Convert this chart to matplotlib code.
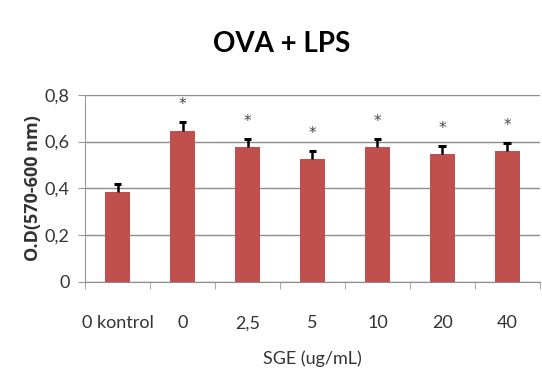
#Bar chart: OVA + LPS optical density by SGE dose

import matplotlib.pyplot as plt
from matplotlib.ticker import FixedLocator

plt.rcParams['font.family'] = ['Lato', 'DejaVu Sans']

categories = ["0 kontrol", "0", "2,5", "5", "10", "20", "40"]
values = [0.386, 0.646, 0.578, 0.525, 0.578, 0.545, 0.560]
errors = [0.034, 0.036, 0.031, 0.036, 0.031, 0.036, 0.032]
significant = [False, True, True, True, True, True, True]
y_ticks = [0, 0.2, 0.4, 0.6, 0.8]
y_tick_labels = ["0", "0,2", "0,4", "0,6", "0,8"]

fig = plt.figure(figsize=(5.42, 3.81), dpi=100)
ax = fig.add_axes([0.157, 0.26, 0.839, 0.4914])

x = list(range(len(categories)))
ax.bar(x, values, width=0.38, color="#c0504d", zorder=3)

#----------upper error bars only----------
tops = [v + e for v, e in zip(values, errors)]
ax.vlines(x, values, tops, color="black", linewidth=1.8, zorder=4)
ax.hlines(tops, [xi - 0.06 for xi in x], [xi + 0.06 for xi in x],
          color="black", linewidth=2.2, zorder=4)

#----------significance stars----------
for xi, t, s in zip(x, tops, significant):
    if s:
        ax.text(xi, t + 0.075, "*", ha="center", va="center",
                fontsize=11, color="#444444", family="DejaVu Sans")

ax.set_xlim(-0.5, len(categories) - 0.5)
ax.set_ylim(0, 0.8)
ax.set_yticks(y_ticks)
ax.set_yticklabels(y_tick_labels, fontsize=13, color="#333333")
ax.set_xticks(x)
ax.set_xticklabels(categories, fontsize=13, color="#333333")
ax.tick_params(axis="x", which="major", length=0, pad=24)
ax.xaxis.set_minor_locator(FixedLocator([i + 0.5 for i in range(-1, len(categories))]))
ax.tick_params(axis="x", which="minor", length=5, color="#999999")
ax.tick_params(axis="y", length=5, color="#999999", pad=6)

ax.grid(True, axis="y", color="#8c8c8c", linewidth=1, zorder=0)
for side in ["top", "right"]:
    ax.spines[side].set_visible(False)
ax.spines["left"].set_color("#999999")
ax.spines["bottom"].set_color("#8c8c8c")

ax.set_ylabel("O.D(570-600 nm)", fontsize=13, fontweight="bold", color="#333333",
              family=["Open Sans", "DejaVu Sans"], labelpad=2)
ax.set_xlabel("SGE (ug/mL)", fontsize=13, color="#333333", labelpad=14)
fig.text(0.52, 0.885, "OVA + LPS", ha="center", va="center",
         fontsize=20, fontweight="bold", color="black")

plt.savefig("out.png", dpi=100)
